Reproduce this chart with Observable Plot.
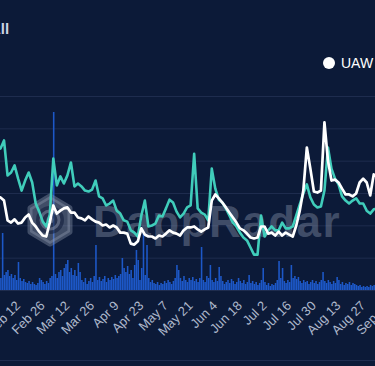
<!DOCTYPE html>
<html>
<head>
<meta charset="utf-8">
<script src="https://cdn.jsdelivr.net/npm/d3@7"></script>
<script src="https://cdn.jsdelivr.net/npm/@observablehq/plot@0.6"></script>
<style>
  html, body { margin: 0; padding: 0; background: #0c1a38; }
  #wrap { position: relative; width: 375px; height: 366px; overflow: hidden; background: #0c1a38; font-family: "Liberation Sans", Arial, sans-serif; }
  #wrap > svg, #wrap > .layer { position: absolute; left: 0; top: 0; }
  .title { position: absolute; left: -10px; top: 21px; color: #ccd3e4; font-size: 15px; font-weight: bold; line-height: 15px; white-space: nowrap; }
  .legend { position: absolute; left: 323px; top: 56px; display: flex; align-items: center; color: #ffffff; font-size: 14px; line-height: 14px; white-space: nowrap; }
  .legend .dot { width: 12px; height: 12px; border-radius: 50%; background: #ffffff; margin-right: 6px; }
  .bottomline { position: absolute; left: 0; top: 360px; width: 375px; height: 1px; background: #1f2d50; }
</style>
</head>
<body>
<div id="wrap">
  <div class="title">All</div>
  <div class="legend"><span class="dot"></span><span>UAW</span></div>
  <div class="bottomline"></div>
</div>
<script>
// ---- data ----
const startDate = "2018-02-02";
const endDate = "2018-09-03";
// two-day samples starting at startDate
const tealSeries = [43.9,46.4,35.6,36.5,38.7,34.6,30.9,34.0,36.5,33.4,
 26.9,24.4,21.3,19.8,23.5,40.8,32.5,35.3,33.1,35.6,
 39.6,32.2,33.1,32.2,30.9,30.6,31.2,34.0,29.1,28.5,
 26.3,26.9,27.8,24.7,23.8,21.7,21.3,18.6,17.9,16.7,
 23.2,27.8,19.8,20.1,20.7,23.2,22.9,25.4,28.1,27.2,
 24.4,22.6,23.8,25.7,26.3,42.3,25.4,24.1,23.5,21.7,
 37.7,31.5,28.1,27.2,25.4,23.2,21.0,19.8,17.9,16.4,
 15.5,13.3,11.1,11.1,23.2,16.7,18.6,19.8,18.6,18.6,
 21.0,19.2,19.2,19.8,23.2,26.6,30.0,32.8,28.8,26.6,
 25.7,26.0,30.9,44.2,37.7,34.6,32.8,29.1,27.8,26.9,
 27.8,28.5,26.9,26.9,24.7,23.8,25.1,25.4];
const uawSeries = [28.8,27.8,21.7,21.0,22.0,20.7,21.0,22.6,23.5,21.0,
 19.8,18.2,17.0,16.7,21.0,26.3,23.8,24.7,25.4,25.7,
 24.1,24.1,22.6,22.3,21.7,22.9,22.0,21.3,21.0,20.1,
 20.4,19.5,20.1,19.5,17.9,17.9,17.6,14.5,14.2,15.2,
 19.2,17.3,16.7,16.7,16.1,17.0,16.7,17.6,18.6,17.9,
 17.6,17.0,18.6,19.5,19.5,19.8,18.9,18.2,18.9,19.5,
 27.8,29.7,28.5,27.2,25.7,24.1,22.6,21.0,19.2,18.6,
 17.6,16.4,16.1,16.4,19.8,19.8,17.6,17.9,17.0,18.2,
 17.0,17.9,17.3,16.7,20.1,24.7,30.9,44.2,37.7,30.6,
 30.3,30.9,52.0,40.2,34.0,34.3,33.4,31.5,29.7,29.7,
 29.1,30.0,33.4,34.6,33.4,29.4,35.9,35.0];
// daily volume bars starting at startDate
const volumeSeries = [12,57,15,18,20,14,16,12,15,10,
 28,12,9,11,8,7,9,6,8,6,
 5,7,12,10,8,6,9,7,12,14,
 178,16,12,18,20,14,22,26,30,18,
 22,15,20,14,27,18,10,8,12,6,
 9,12,8,14,45,10,13,9,11,14,
 8,12,10,13,11,15,12,14,16,32,
 22,18,24,16,20,12,25,40,30,10,
 22,57,15,45,12,8,10,7,6,8,
 5,7,6,9,7,10,8,6,9,12,
 25,20,12,9,14,10,8,12,10,13,
 9,11,8,12,43,10,8,14,12,25,
 10,8,12,9,23,14,9,6,8,10,
 7,11,9,6,8,12,9,7,10,6,
 8,15,7,9,6,8,5,7,10,22,
 8,5,7,4,6,5,7,10,29,12,
 22,9,7,10,8,25,12,14,11,13,
 9,7,10,8,9,6,8,10,7,9,
 6,8,10,18,9,7,10,8,6,9,
 7,13,10,6,8,5,7,6,8,5,
 7,6,5,4,5,3,4,3,4,3,
 5,4,5,6];
const tickDates = ["2018-02-12","2018-02-26","2018-03-12","2018-03-26","2018-04-09","2018-04-23",
 "2018-05-07","2018-05-21","2018-06-04","2018-06-18","2018-07-02","2018-07-16","2018-07-30",
 "2018-08-13","2018-08-27","2018-09-10"];
const gridValues = [0,10,20,30,40,50,60];

// ---- build ----
const start = new Date(startDate + "T00:00:00Z");
const end = new Date(endDate + "T00:00:00Z");
const lineRows = tealSeries.map((v, i) => ({date: d3.utcDay.offset(start, 2 * i), teal: v, uaw: uawSeries[i]}));
const barRows = volumeSeries.map((v, i) => ({x1: d3.utcDay.offset(start, i), x2: d3.utcDay.offset(start, i + 1), v}));
const ticks = tickDates.map(s => new Date(s + "T00:00:00Z"));

const common = {width: 375, height: 366, marginTop: 96, marginBottom: 76, marginLeft: 0, marginRight: 0};

const barsPlot = Plot.plot({
  ...common,
  style: {background: "transparent"},
  x: {type: "utc", domain: [start, end], axis: null},
  y: {domain: [0, 194], axis: null},
  marks: [
    Plot.rectY(barRows, {x1: "x1", x2: "x2", y: "v", fill: "#1d58c8", insetLeft: 0.1, insetRight: 0.1})
  ]
});

const linesPlot = Plot.plot({
  ...common,
  style: {background: "transparent", color: "#aeb8cc", fontSize: "13px", fontFamily: "Liberation Sans, Arial, sans-serif"},
  x: {type: "utc", domain: [start, end], ticks: ticks, tickFormat: d3.utcFormat("%b %-d"), tickRotate: -45, tickSize: 0, tickPadding: 13, label: null},
  y: {domain: [0, 60], axis: null},
  marks: [
    Plot.line(lineRows, {x: "date", y: "teal", stroke: "#40cdbb", strokeWidth: 2.6, strokeLinejoin: "round", clip: true}),
    Plot.line(lineRows, {x: "date", y: "uaw", stroke: "#ffffff", strokeWidth: 2.7, strokeLinejoin: "round", clip: true})
  ]
});

const gridPlot = Plot.plot({
  ...common,
  style: {background: "transparent"},
  x: {type: "utc", domain: [start, end], axis: null},
  y: {domain: [0, 60], axis: null},
  marks: [Plot.ruleY(gridValues, {stroke: "#1e2c4e", strokeWidth: 1})]
});

// watermark (decorative)
const ns = "http://www.w3.org/2000/svg";
const wm = document.createElementNS(ns, "svg");
wm.setAttribute("width", 375); wm.setAttribute("height", 366);
wm.setAttribute("class", "layer");
wm.innerHTML = `
  <g fill="rgba(150,160,182,0.38)">
    <path d="M50 196 L70 208 L70 232 L50 244 L30 232 L30 208 Z" stroke="rgba(150,160,182,0.38)" stroke-width="5" stroke-linejoin="round"/>
  </g>
  <circle cx="50" cy="220" r="14" fill="#0c1a38" opacity="0.55"/>
  <circle cx="50" cy="220" r="9" fill="none" stroke="rgba(150,160,182,0.45)" stroke-width="3"/>
  <circle cx="50" cy="220" r="3.5" fill="rgba(150,160,182,0.45)"/>
  <text x="93" y="237" font-family="Liberation Sans, Arial, sans-serif" font-weight="bold" font-size="44" letter-spacing="1.5" fill="rgba(150,160,182,0.38)">DappRadar</text>`;

const wrap = document.getElementById("wrap");
const first = wrap.firstChild;
wrap.insertBefore(gridPlot, first);
wrap.insertBefore(barsPlot, first);
wrap.insertBefore(wm, first);
wrap.insertBefore(linesPlot, first);
</script>
</body>
</html>
